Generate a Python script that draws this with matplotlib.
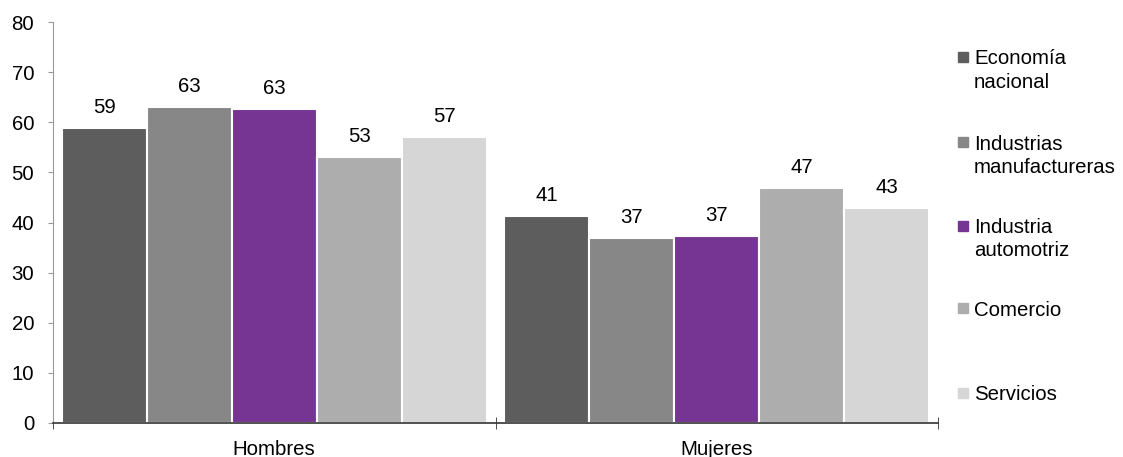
import matplotlib.pyplot as plt
from matplotlib.patches import Rectangle
import numpy as np

plt.rcParams['font.family'] = ['Liberation Sans', 'DejaVu Sans']

# Datos
grupos = ['Hombres', 'Mujeres']
series = ['Economía\nnacional', 'Industrias\nmanufactureras', 'Industria\nautomotriz',
          'Comercio', 'Servicios']
valores = [
    [58.9, 41.3],   # Economía nacional
    [63.1, 36.9],   # Industrias manufactureras
    [62.7, 37.3],   # Industria automotriz
    [53.1, 46.9],   # Comercio
    [57.0, 42.9],   # Servicios
]
etiquetas = [
    ['59', '41'],
    ['63', '37'],
    ['63', '37'],
    ['53', '47'],
    ['57', '43'],
]
colores = ['#5d5d5d', '#878787', '#773593', '#adadad', '#d6d6d6']

W, H = 1123, 457
fs = 14.7

fig = plt.figure(figsize=(W/100, H/100), dpi=100)
ax = fig.add_axes([53/W, 1-423/H, (938-53)/W, (423-22)/H])

n = len(series)
ancho = 0.96 / n
x = np.arange(len(grupos))
for i in range(n):
    pos = x - 0.48 + ancho*(i+0.5)
    ax.bar(pos, valores[i], width=ancho, color=colores[i], edgecolor='white', linewidth=1.5)
    for p, v, t in zip(pos, valores[i], etiquetas[i]):
        ax.text(p, v + 3, t, ha='center', va='baseline', fontsize=fs)

ax.set_xlim(-0.5, 1.5)
ax.set_ylim(0, 80)
ax.set_yticks(range(0, 81, 10))
ax.tick_params(axis='y', labelsize=fs, length=3.6, color='#999999', pad=10)
ax.set_xticks(x)
ax.set_xticklabels([])
ax.tick_params(axis='x', length=0)
for xi, g in zip(x, grupos):
    ax.text(xi, -32/401, g, transform=ax.get_xaxis_transform(), ha='center',
            va='baseline', fontsize=fs)
# marcas de separación entre grupos
ax.set_xticks([-0.5, 0.5, 1.5], minor=True)
ax.tick_params(axis='x', which='minor', length=8, direction='inout', color='#333333')

for s in ['top', 'right']:
    ax.spines[s].set_visible(False)
ax.spines['left'].set_color('#999999')
ax.spines['bottom'].set_color('#333333')
ax.spines['bottom'].set_linewidth(1.2)

# leyenda (cuadro alineado con la primera línea)
leyenda_y = [57, 142, 226, 308, 393]
for lab, col, yc in zip(series, colores, leyenda_y):
    fig.patches.append(Rectangle((958/W, 1-(yc+5)/H), 10/W, 10/H, color=col,
                                 transform=fig.transFigure, figure=fig))
    for k, linea in enumerate(lab.split('\n')):
        fig.text(974/W, 1-(yc + 7.5 + 23*k)/H, linea, fontsize=fs, va='baseline', ha='left')

fig.savefig('out.png', dpi=100)
